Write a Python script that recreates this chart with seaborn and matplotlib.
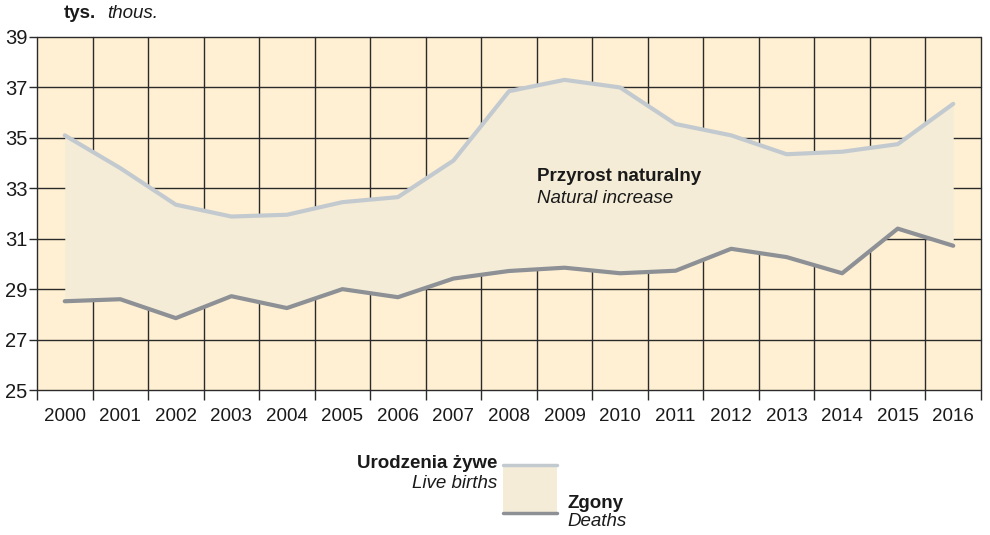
import matplotlib
matplotlib.use("Agg")
import matplotlib.pyplot as plt
import seaborn as sns
import numpy as np
import pandas as pd
from matplotlib.patches import Rectangle
from matplotlib.lines import Line2D

years = [2000, 2001, 2002, 2003, 2004, 2005, 2006, 2007, 2008,
         2009, 2010, 2011, 2012, 2013, 2014, 2015, 2016]
births = [35.1, 33.8, 32.35, 31.88, 31.95, 32.45, 32.65, 34.1, 36.85,
          37.3, 37.0, 35.55, 35.1, 34.35, 34.45, 34.75, 36.35]
deaths = [28.52, 28.6, 27.85, 28.72, 28.25, 29.0, 28.68, 29.42, 29.72,
          29.85, 29.63, 29.73, 30.6, 30.27, 29.63, 31.4, 30.72]
y_ticks = [25, 27, 29, 31, 33, 35, 37, 39]

sns.set_theme(style="white")
plt.rcParams['font.family'] = ['Liberation Sans', 'DejaVu Sans']

BG = "#FFF0D3"
FILL = "#F4ECD7"
C_BIRTH = "#C3CACF"
C_DEATH = "#8D9196"
GRID = "#2a2a2a"
TXT = "#1a1a1a"
FS = 13.5

df = pd.DataFrame({"idx": np.arange(len(years)), "births": births, "deaths": deaths})

fig = plt.figure(figsize=(9.9, 5.35), dpi=100)
ax = fig.add_axes([37 / 990, 1 - 390 / 535, (981 - 37) / 990, (390 - 37) / 535])
ax.set_facecolor(BG)

ax.fill_between(df["idx"], df["deaths"], df["births"], color=FILL, lw=0, zorder=2)
sns.lineplot(data=df, x="idx", y="births", color=C_BIRTH, lw=3, ax=ax, zorder=3)
sns.lineplot(data=df, x="idx", y="deaths", color=C_DEATH, lw=3, ax=ax, zorder=3)

ax.set_xlim(-0.5, len(years) - 0.5)
ax.set_ylim(25, 39)
ax.set_yticks(y_ticks)
ax.set_yticklabels([str(v) for v in y_ticks], fontsize=14.5, color=TXT)
ax.set_xticks(np.arange(len(years)))
ax.set_xticklabels([str(y) for y in years], fontsize=13.5, color=TXT)
ax.set_xticks(np.arange(len(years) + 1) - 0.5, minor=True)
ax.tick_params(axis="x", which="major", length=0, pad=13)
ax.tick_params(axis="x", which="minor", length=7, width=1, color=GRID, direction="out", bottom=True)
ax.tick_params(axis="y", which="major", length=6, width=1, color=GRID, direction="out", left=True, pad=1)
ax.set_xlabel("")
ax.set_ylabel("")

ax.grid(False)
for v in y_ticks:
    ax.axhline(v, color=GRID, lw=1, zorder=1, clip_on=False)
for xv in np.arange(len(years) + 1) - 0.5:
    ax.axvline(xv, color=GRID, lw=1, zorder=1, clip_on=False)
for s in ax.spines.values():
    s.set_visible(False)

ax.text(8.5, 33.45, "Przyrost naturalny", fontsize=FS, fontweight="bold", color=TXT,
        ha="left", va="center", zorder=4)
ax.text(8.5, 32.6, "Natural increase", fontsize=FS, style="italic", color=TXT,
        ha="left", va="center", zorder=4)

fig.text(64 / 990, 1 - 13 / 535, "tys.", fontsize=FS, fontweight="bold", color=TXT, va="center", ha="left")
fig.text(107 / 990, 1 - 13 / 535, "thous.", fontsize=FS, style="italic", color=TXT, va="center", ha="left")

# legend
fig.patches.append(Rectangle((503 / 990, 1 - 513 / 535), 54 / 990, 48 / 535,
                             transform=fig.transFigure, color=FILL, lw=0))
fig.lines.append(Line2D([503 / 990, 557 / 990], [1 - 465 / 535] * 2, transform=fig.transFigure,
                        color=C_BIRTH, lw=2.5))
fig.lines.append(Line2D([503 / 990, 557 / 990], [1 - 513 / 535] * 2, transform=fig.transFigure,
                        color=C_DEATH, lw=2.5))
fig.text(497 / 990, 1 - 464 / 535, "Urodzenia żywe", fontsize=FS, fontweight="bold", ha="right", va="center", color=TXT)
fig.text(497 / 990, 1 - 483 / 535, "Live births", fontsize=FS, style="italic", ha="right", va="center", color=TXT)
fig.text(567 / 990, 1 - 504 / 535, "Zgony", fontsize=FS, fontweight="bold", ha="left", va="center", color=TXT)
fig.text(567 / 990, 1 - 522 / 535, "Deaths", fontsize=FS, style="italic", ha="left", va="center", color=TXT)

fig.savefig("out.png", dpi=100, facecolor="white")
